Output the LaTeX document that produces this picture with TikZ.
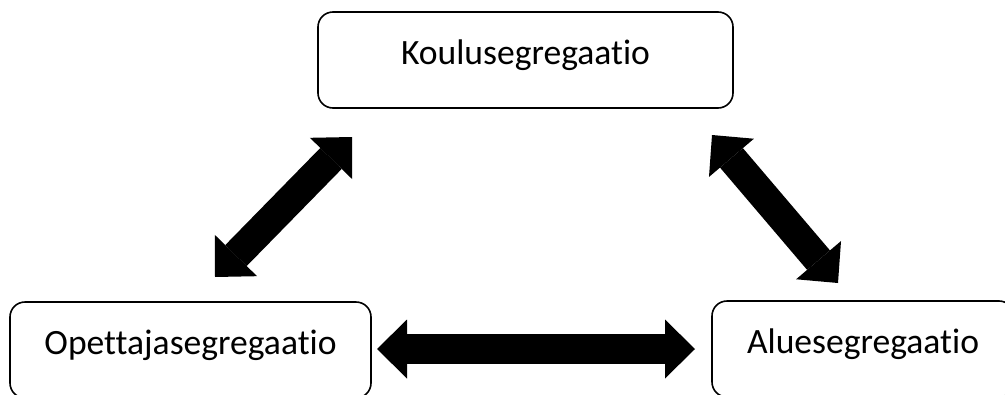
\documentclass[tikz,border=0pt]{standalone}
\usepackage{fontspec}
\setmainfont[Ligatures=NoCommon]{Carlito}
\usetikzlibrary{arrows.meta}
\tikzset{
  segbox/.style={draw=black, line width=1.6pt, rounded corners=15pt, inner sep=0pt,
    minimum height=96pt, text height=24pt, text depth=15pt,
    font=\fontsize{35.6}{42}\selectfont},
  fatarrow/.style={line width=30pt, black,
    {Triangle[length=30pt,width=59pt,line width=0pt]}-{Triangle[length=30pt,width=59pt,line width=0pt]}}
}
\begin{document}
\begin{tikzpicture}[x=1pt,y=-1pt]
\useasboundingbox (0,0) rectangle (1005,394);
\clip (0,0) rectangle (1005,394);
\node[segbox, minimum width=415pt] (koulu) at (525.5,60) {Koulusegregaatio};
\node[segbox, minimum width=361pt] (opettaja) at (190.5,350) {Opettajasegregaatio};
\node[segbox, minimum width=302pt] (alue) at (863,349) {Aluesegregaatio};
\coordinate (h1) at (377,349);
\coordinate (h2) at (695,349);
\coordinate (l1) at (215,277);
\coordinate (l2) at (352,137);
\coordinate (r1) at (712,135);
\coordinate (r2) at (838,283);
\draw[fatarrow] (h1) -- (h2);
\draw[fatarrow] (l1) -- (l2);
\draw[fatarrow] (r1) -- (r2);
\end{tikzpicture}
\end{document}
